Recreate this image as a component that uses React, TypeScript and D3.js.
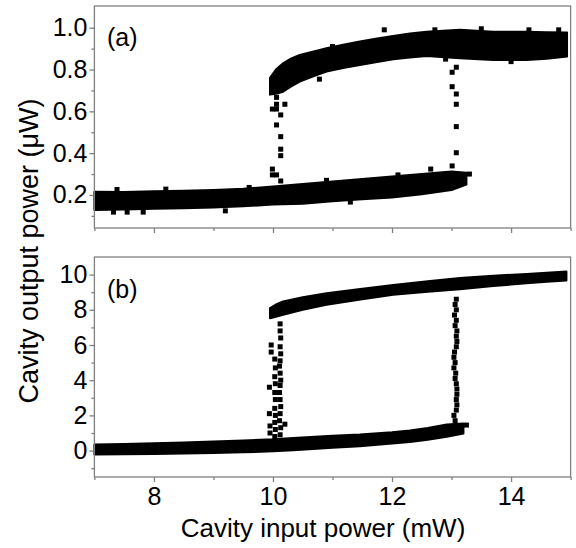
import React, { useRef, useEffect } from 'react'
import * as d3 from 'd3'

// axis ticks
const xTicks = [8, 10, 12, 14]
const xMinor = [7, 9, 11, 13, 15]
const aTicks = [0.2, 0.4, 0.6, 0.8, 1.0]
const aMinor = [0.1, 0.3, 0.5, 0.7, 0.9]
const bTicks = [0, 2, 4, 6, 8, 10]
const bMinor = [-1, 1, 3, 5, 7, 9]

// panel (a): lower branch band
const aLowX = [7, 7.5, 8, 8.5, 9, 9.5, 10, 10.5, 11, 11.5, 12, 12.5, 13, 13.25]
const aLowTop = [0.216, 0.214, 0.218, 0.22, 0.224, 0.23, 0.24, 0.252, 0.264, 0.276, 0.288, 0.3, 0.312, 0.306]
const aLowBot = [0.128, 0.131, 0.134, 0.136, 0.14, 0.146, 0.154, 0.158, 0.17, 0.18, 0.188, 0.204, 0.224, 0.25]

// panel (a): upper branch band
const aUpX = [9.95, 10.05, 10.17, 10.3, 10.45, 10.7, 10.9, 11.2, 11.46, 11.75, 12.02, 12.3, 12.58, 13.14, 13.7, 14.26, 14.6, 14.94]
const aUpTop = [0.76, 0.8, 0.83, 0.852, 0.87, 0.888, 0.902, 0.92, 0.934, 0.948, 0.961, 0.972, 0.981, 0.99, 0.981, 0.981, 0.978, 0.977]
const aUpBot = [0.68, 0.684, 0.694, 0.718, 0.742, 0.77, 0.79, 0.808, 0.822, 0.836, 0.849, 0.858, 0.865, 0.854, 0.846, 0.846, 0.852, 0.862]

// panel (a): switching points and strays
const aPoints = [
  [9.99, 0.691], [10.06, 0.667], [9.99, 0.611], [10.06, 0.611], [10.06, 0.634], [10.2, 0.634],
  [10.13, 0.583], [10.06, 0.535], [10.13, 0.479], [10.13, 0.419], [10.13, 0.388], [9.99, 0.324],
  [9.99, 0.296], [10.06, 0.296], [10.13, 0.267], [10.78, 0.754],
  [13.08, 0.811], [13.01, 0.787], [13.01, 0.718], [13.08, 0.683], [13.08, 0.634], [13.08, 0.527],
  [13.08, 0.402], [13.01, 0.339], [12.65, 0.324], [11.87, 0.99], [12.72, 0.99],
  [7.32, 0.118], [7.55, 0.118], [7.82, 0.118], [9.2, 0.124], [13.3, 0.3],
  [7.38, 0.226], [8.2, 0.228], [9.6, 0.236], [10.9, 0.27], [12.1, 0.296], [11.3, 0.166],
  [10.5, 0.86], [11.0, 0.91], [13.5, 0.995], [14.3, 0.99], [14.8, 0.99], [12.9, 0.85], [14.0, 0.838]
]

// panel (b): lower branch band
const bLowX = [7, 7.5, 8, 8.5, 9, 9.5, 10, 10.34, 11, 11.46, 12, 12.3, 12.6, 12.92, 13.2]
const bLowTop = [0.34, 0.38, 0.42, 0.46, 0.52, 0.57, 0.64, 0.72, 0.84, 0.91, 1.04, 1.14, 1.28, 1.48, 1.54]
const bLowBot = [-0.22, -0.21, -0.19, -0.17, -0.14, -0.1, -0.04, 0.02, 0.16, 0.25, 0.4, 0.49, 0.62, 0.78, 0.97]

// panel (b): upper branch band
const bUpX = [9.95, 10.05, 10.17, 10.5, 10.9, 11.5, 12.02, 12.6, 13.14, 13.7, 14.26, 14.6, 14.93]
const bUpTop = [8.09, 8.3, 8.47, 8.72, 8.94, 9.2, 9.41, 9.62, 9.8, 9.93, 10.04, 10.11, 10.17]
const bUpBot = [7.52, 7.6, 7.71, 8.0, 8.28, 8.6, 8.85, 9.02, 9.17, 9.35, 9.51, 9.6, 9.66]

// panel (b): switching points and strays
const bPoints = [
  [10.12, 7.2], [10.12, 6.8], [10.13, 6.4], [10.12, 5.9], [10.13, 5.5], [10.12, 5.1], [10.11, 4.8],
  [10.12, 4.4], [10.13, 4.0], [10.12, 3.7], [10.11, 3.3], [10.12, 2.9], [10.13, 2.5], [10.12, 2.1],
  [10.11, 1.7], [10.13, 1.3], [10.12, 0.9],
  [10.03, 5.2], [10.04, 4.7], [10.03, 4.2], [10.04, 3.8], [10.03, 3.3], [10.04, 2.9], [10.03, 2.4],
  [10.04, 2.0], [10.03, 1.6], [10.04, 1.2], [10.03, 0.8], [10.04, 0.4],
  [9.94, 3.6], [9.94, 2.1], [9.97, 6.0], [9.97, 5.6], [10.2, 1.5], [9.95, 1.0], [9.95, 1.4],
  [13.08, 8.6], [13.06, 8.3], [13.08, 8.0], [13.05, 7.7], [13.08, 7.4], [13.06, 7.1], [13.09, 6.8],
  [13.08, 6.5], [13.09, 6.2], [13.08, 5.9], [13.05, 5.6], [13.04, 5.3], [13.06, 5.0], [13.04, 4.7],
  [13.07, 4.4], [13.06, 4.1], [13.08, 3.8], [13.09, 3.5], [13.09, 3.2], [13.08, 2.9], [13.09, 2.6],
  [13.08, 2.3], [13.04, 2.0], [13.06, 1.7], [13.25, 1.45]
]

const FONT = '"Liberation Sans", Arial, sans-serif'

export default function App() {
  const ref = useRef<SVGSVGElement>(null)

  useEffect(() => {
    const svg = d3.select(ref.current)
    svg.selectAll('*').remove()

    const left = 94.4
    const right = 570.6
    const x = d3.scaleLinear().domain([7, 15]).range([left, right])

    const panels = [
      {
        top: 6, bottom: 228, domain: [0.042, 1.104], ticks: aTicks, minor: aMinor,
        fmt: d3.format('.1f'), label: '(a)', labelY: 46, showX: false, points: aPoints,
        bands: [[aLowX, aLowTop, aLowBot], [aUpX, aUpTop, aUpBot]]
      },
      {
        top: 257, bottom: 477, domain: [-1.5, 11], ticks: bTicks, minor: bMinor,
        fmt: d3.format('d'), label: '(b)', labelY: 298, showX: true, points: bPoints,
        bands: [[bLowX, bLowTop, bLowBot], [bUpX, bUpTop, bUpBot]]
      }
    ]

    panels.forEach(p => {
      const y = d3.scaleLinear().domain(p.domain).range([p.bottom, p.top])
      const g = svg.append('g')

      // data bands
      p.bands.forEach(([xs, tops, bots]) => {
        const rows = xs.map((v, i) => ({ x: v, hi: tops[i], lo: bots[i] }))
        const area = d3.area<any>().x(d => x(d.x)).y0(d => y(d.lo)).y1(d => y(d.hi))
        g.append('path').datum(rows).attr('d', area)
          .attr('fill', '#000').attr('stroke', '#000').attr('stroke-width', 2).attr('stroke-linejoin', 'round')
      })

      // single points
      g.selectAll('rect.pt').data(p.points).enter().append('rect')
        .attr('class', 'pt')
        .attr('x', d => x(d[0]) - 2.5).attr('y', d => y(d[1]) - 2.5)
        .attr('width', 5).attr('height', 5).attr('fill', '#000')

      // frame
      g.append('rect')
        .attr('x', left).attr('y', p.top).attr('width', right - left).attr('height', p.bottom - p.top)
        .attr('fill', 'none').attr('stroke', '#808080').attr('stroke-width', 1.3)

      // y axes
      const yAxis = g.append('g').attr('transform', `translate(${left},0)`)
        .call(d3.axisLeft(y).tickValues(p.ticks).tickSize(5).tickPadding(2).tickFormat(p.fmt as any))
      g.append('g').attr('transform', `translate(${left},0)`)
        .call(d3.axisLeft(y).tickValues(p.minor).tickSize(3).tickFormat(() => ''))

      // x axes
      const xAxis = g.append('g').attr('transform', `translate(0,${p.bottom})`)
        .call(d3.axisBottom(x).tickValues(xTicks).tickSize(5).tickPadding(5)
          .tickFormat(p.showX ? d3.format('d') : () => ''))
      g.append('g').attr('transform', `translate(0,${p.bottom})`)
        .call(d3.axisBottom(x).tickValues(xMinor).tickSize(3).tickFormat(() => ''))

      g.selectAll('.domain').remove()
      g.selectAll('.tick line').attr('stroke', '#808080').attr('stroke-width', 1.3)
      ;[yAxis, xAxis].forEach(a => a.selectAll('text')
        .attr('font-family', FONT).attr('font-size', 25).attr('fill', '#000'))

      g.append('text').attr('x', 107).attr('y', p.labelY)
        .attr('font-family', FONT).attr('font-size', 25).text(p.label)
    })

    svg.append('text')
      .attr('x', 323).attr('y', 537).attr('text-anchor', 'middle')
      .attr('font-family', FONT).attr('font-size', 26).text('Cavity input power (mW)')

    svg.append('text')
      .attr('transform', 'translate(38,251) rotate(-90)').attr('text-anchor', 'middle')
      .attr('font-family', FONT).attr('font-size', 27).text('Cavity output power (μW)')
  }, [])

  return (
    <svg ref={ref} width={576} height={548}
      style={{ position: 'absolute', left: 0, top: 0, background: '#fff' }} />
  )
}
